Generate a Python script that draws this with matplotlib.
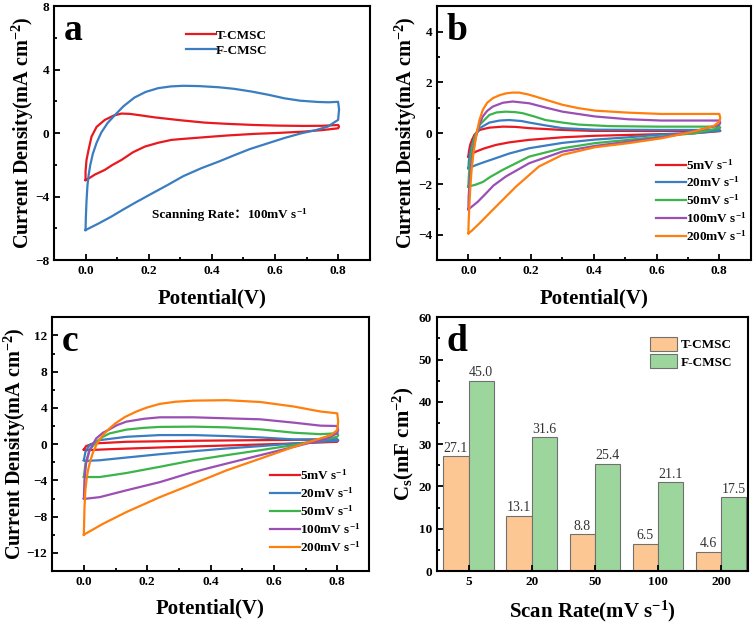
import numpy as np
import matplotlib
matplotlib.use("Agg")
import matplotlib.pyplot as plt
from matplotlib.ticker import MultipleLocator, AutoMinorLocator

plt.rcParams['font.family'] = ['Liberation Serif', 'Noto Sans CJK SC', 'DejaVu Sans']
plt.rcParams['font.weight'] = 'bold'
plt.rcParams['mathtext.default'] = 'regular'

# ---- panel a : 100 mV/s, T-CMSC vs F-CMSC (loop: forward 0->0.8 then back)
a_t_v = [0.0, 0.0, 0.003, 0.01, 0.019, 0.035, 0.061, 0.09, 0.114, 0.14, 0.17, 0.219, 0.30, 0.377, 0.45,
         0.535, 0.61, 0.69, 0.75, 0.8, 0.803, 0.8, 0.75, 0.69, 0.61, 0.535, 0.45, 0.377, 0.30, 0.272,
         0.23, 0.188, 0.15, 0.114, 0.085, 0.061, 0.03, 0.01, 0.0]
a_t_i = [-2.95, -2.4, -1.69, -1.0, -0.21, 0.4, 0.84, 1.12, 1.24, 1.22, 1.14, 1.0, 0.82, 0.67, 0.59,
         0.52, 0.48, 0.46, 0.47, 0.52, 0.42, 0.31, 0.2, 0.1, 0.02, -0.04, -0.14, -0.25, -0.37, -0.42,
         -0.6, -0.84, -1.2, -1.68, -2.0, -2.31, -2.6, -2.85, -2.95]
a_f_v = [0.0, 0.001, 0.003, 0.006, 0.01, 0.015, 0.023, 0.035, 0.05, 0.07, 0.092, 0.12, 0.155, 0.19,
         0.23, 0.27, 0.31, 0.36, 0.42, 0.47, 0.525, 0.58, 0.63, 0.68, 0.737, 0.77, 0.8, 0.803, 0.8,
         0.785, 0.768, 0.73, 0.684, 0.63, 0.578, 0.52, 0.473, 0.42, 0.367, 0.31, 0.26, 0.21, 0.155,
         0.12, 0.081, 0.04, 0.0]
a_f_i = [-6.1, -5.3, -4.3, -3.3, -2.6, -2.0, -1.3, -0.6, 0.05, 0.65, 1.12, 1.7, 2.25, 2.6,
         2.84, 2.95, 2.99, 2.97, 2.9, 2.8, 2.63, 2.42, 2.2, 2.05, 1.97, 1.95, 1.98, 1.5, 0.84,
         0.65, 0.42, 0.2, 0.0, -0.3, -0.63, -1.0, -1.37, -1.8, -2.2, -2.7, -3.26, -3.8, -4.4,
         -4.8, -5.26, -5.7, -6.1]

# ---- panel b : T-CMSC at different scan rates
b_5_v = [0.0, 0.002, 0.006, 0.012, 0.02, 0.036, 0.067, 0.11, 0.15, 0.194, 0.3, 0.404, 0.6, 0.8, 0.803,
         0.8, 0.72, 0.6, 0.404, 0.3, 0.194, 0.13, 0.088, 0.05, 0.025, 0.01, 0.0]
b_5_i = [-0.92, -0.7, -0.45, -0.25, -0.05, 0.13, 0.22, 0.26, 0.25, 0.2, 0.13, 0.09, 0.09, 0.1, 0.09,
         0.08, 0.0, -0.04, -0.1, -0.16, -0.26, -0.36, -0.46, -0.6, -0.72, -0.82, -0.92]
b_20_v = [0.0, 0.002, 0.006, 0.012, 0.02, 0.036, 0.067, 0.1, 0.13, 0.17, 0.194, 0.25, 0.3, 0.404, 0.6,
          0.8, 0.803, 0.8, 0.72, 0.615, 0.51, 0.404, 0.3, 0.194, 0.13, 0.088, 0.05, 0.025, 0.008,
          0.0]
b_20_i = [-1.38, -1.05, -0.75, -0.45, -0.15, 0.2, 0.42, 0.5, 0.52, 0.48, 0.42, 0.3, 0.2, 0.14, 0.13,
          0.13, 0.11, 0.1, 0.0, -0.05, -0.16, -0.25, -0.38, -0.59, -0.8, -0.98, -1.14, -1.25,
          -1.34, -1.38]
b_50_v = [0.0, 0.002, 0.006, 0.012, 0.02, 0.036, 0.067, 0.09, 0.12, 0.15, 0.173, 0.21, 0.246, 0.3,
          0.352, 0.45, 0.6, 0.8, 0.803, 0.8, 0.72, 0.615, 0.51, 0.404, 0.3, 0.194, 0.11, 0.07, 0.046,
          0.02, 0.005, 0.0]
b_50_i = [-2.1, -1.6, -1.1, -0.6, -0.15, 0.33, 0.72, 0.82, 0.85, 0.83, 0.79, 0.66, 0.52, 0.42,
          0.34, 0.28, 0.26, 0.26, 0.22, 0.2, 0.0, -0.13, -0.26, -0.39, -0.59, -0.92, -1.44, -1.72,
          -1.92, -2.04, -2.08, -2.1]
b_100_v = [0.0, 0.001, 0.004, 0.008, 0.014, 0.022, 0.032, 0.046, 0.06, 0.078, 0.11, 0.141, 0.194,
           0.25, 0.3, 0.404, 0.51, 0.615, 0.8, 0.803, 0.8, 0.72, 0.615, 0.51, 0.404, 0.3, 0.194,
           0.12, 0.08, 0.057, 0.03, 0.01, 0.0]
b_100_i = [-3.0, -2.5, -1.9, -1.35, -0.8, -0.25, 0.25, 0.66, 0.88, 1.05, 1.2, 1.25, 1.18, 1.0,
           0.85, 0.66, 0.55, 0.5, 0.5, 0.42, 0.33, 0.07, -0.16, -0.33, -0.5, -0.72, -1.18, -1.7,
           -2.06, -2.36, -2.7, -2.9, -3.0]
b_200_v = [0.0, 0.001, 0.003, 0.006, 0.01, 0.016, 0.025, 0.035, 0.046, 0.06, 0.078, 0.1, 0.12, 0.14,
           0.162, 0.19, 0.215, 0.26, 0.3, 0.35, 0.404, 0.51, 0.615, 0.8, 0.803, 0.8, 0.783, 0.72,
           0.615, 0.51, 0.404, 0.3, 0.225, 0.152, 0.088, 0.036, 0.01, 0.0]
b_200_i = [-3.94, -3.5, -2.9, -2.2, -1.5, -0.8, -0.1, 0.5, 0.92, 1.2, 1.38, 1.5, 1.57, 1.6,
           1.6, 1.53, 1.44, 1.27, 1.12, 0.99, 0.89, 0.81, 0.76, 0.76, 0.6, 0.46, 0.29, 0.07,
           -0.2, -0.39, -0.55, -0.85, -1.31, -2.1, -2.89, -3.54, -3.85, -3.94]

# ---- panel c : F-CMSC at different scan rates
c_5_v = [0.0, 0.007, 0.029, 0.135, 0.346, 0.557, 0.8, 0.803, 0.8, 0.663, 0.45, 0.24, 0.08, 0.007, 0.0]
c_5_i = [-0.6, -0.22, 0.07, 0.26, 0.37, 0.44, 0.52, 0.4, 0.26, 0.07, -0.15, -0.37, -0.56, -0.67, -0.6]
c_20_v = [0.0, 0.005, 0.018, 0.05, 0.135, 0.24, 0.346, 0.45, 0.557, 0.663, 0.8, 0.803, 0.8, 0.663,
          0.557, 0.45, 0.346, 0.24, 0.134, 0.05, 0.007, 0.0]
c_20_i = [-1.78, -0.85, -0.1, 0.44, 0.81, 1.0, 1.0, 0.89, 0.74, 0.52, 0.52, 0.45, 0.37, 0.07,
          -0.22, -0.48, -0.78, -1.11, -1.48, -1.78, -1.85, -1.78]
c_50_v = [0.0, 0.005, 0.018, 0.039, 0.06, 0.081, 0.134, 0.19, 0.24, 0.346, 0.45, 0.557, 0.663, 0.747,
          0.8, 0.803, 0.8, 0.747, 0.663, 0.557, 0.45, 0.346, 0.24, 0.134, 0.05, 0.0]
c_50_i = [-3.63, -2.15, -0.67, 0.26, 0.8, 1.18, 1.6, 1.8, 1.9, 1.93, 1.85, 1.63, 1.26, 1.1,
          1.2, 1.0, 0.81, 0.44, -0.1, -0.67, -1.22, -1.78, -2.5, -3.19, -3.63, -3.63]
c_100_v = [0.0, 0.002, 0.007, 0.018, 0.039, 0.06, 0.081, 0.105, 0.134, 0.19, 0.24, 0.346, 0.45,
           0.557, 0.663, 0.747, 0.8, 0.803, 0.8, 0.768, 0.663, 0.557, 0.45, 0.346, 0.24, 0.134,
           0.05, 0.002, 0.0]
c_100_i = [-6.0, -4.0, -2.15, -0.67, 0.63, 1.25, 1.63, 2.1, 2.48, 2.8, 2.96, 2.96, 2.85,
           2.74, 2.37, 2.04, 2.0, 1.6, 1.2, 0.63, -0.3, -1.22, -2.15, -3.07, -4.19, -5.1,
           -5.85, -6.04, -6.0]
c_200_v = [0.0, 0.002, 0.005, 0.009, 0.013, 0.02, 0.029, 0.042, 0.06, 0.08, 0.1, 0.13, 0.166, 0.2,
           0.24, 0.29, 0.346, 0.45, 0.557, 0.663, 0.747, 0.8, 0.803, 0.8, 0.78, 0.747, 0.663, 0.557,
           0.45, 0.346, 0.24, 0.134, 0.06, 0.002, 0.0]
c_200_i = [-10.0, -7.0, -5.0, -3.8, -2.9, -1.9, -0.9, 0.1, 1.0, 1.7, 2.3, 3.0, 3.6, 4.05,
           4.44, 4.68, 4.8, 4.85, 4.65, 4.15, 3.6, 3.4, 2.5, 1.55, 1.0, 0.63, -0.3, -1.6,
           -2.9, -4.37, -5.85, -7.5, -8.8, -9.95, -10.0]

# ---- panel d : areal capacitance
scan_rates = ['5', '20', '50', '100', '200']
cs_t = [27.1, 13.1, 8.8, 6.5, 4.6]
cs_f = [45.0, 31.6, 25.4, 21.1, 17.5]

rate_labels = ['5mV s$^{-1}$', '20mV s$^{-1}$', '50mV s$^{-1}$', '100mV s$^{-1}$', '200mV s$^{-1}$']
rate_colors = ['#e8191f', '#3a7dc1', '#3cb44b', '#9b4fb4', '#ff7f0e']

fig = plt.figure(figsize=(7.56, 6.27), dpi=100)
ax_a = fig.add_axes([0.0714, 0.585, 0.4176, 0.405])
ax_b = fig.add_axes([0.578, 0.585, 0.415, 0.405])
ax_c = fig.add_axes([0.069, 0.0893, 0.419, 0.4047])
ax_d = fig.add_axes([0.578, 0.0893, 0.411, 0.4047])


def style(ax):
    for s in ax.spines.values():
        s.set_linewidth(1.5)
    ax.tick_params(which='both', direction='in', width=1.3, labelsize=9.5)
    ax.tick_params(which='major', length=4)
    ax.tick_params(which='minor', length=2.5)
    for t in ax.get_xticklabels() + ax.get_yticklabels():
        t.set_fontweight('bold')


def cv_axes(ax, ylim, ystep, letter):
    ax.set_xlim(-0.1, 0.9)
    ax.set_ylim(*ylim)
    ax.xaxis.set_minor_locator(MultipleLocator(0.1))
    ax.yaxis.set_major_locator(MultipleLocator(ystep))
    ax.yaxis.set_minor_locator(AutoMinorLocator(2))
    ax.set_xticks([0.0, 0.2, 0.4, 0.6, 0.8])
    ax.set_xticklabels(['0.0', '0.2', '0.4', '0.6', '0.8'])
    ax.set_xlabel('Potential(V)', fontsize=15, fontweight='bold', labelpad=8)
    ax.set_ylabel('Current Density(mA cm$^{-2}$)', fontsize=14.5, fontweight='bold', labelpad=-1)
    ax.text(0.03, 0.975, letter, transform=ax.transAxes, fontsize=27, fontweight='bold',
            va='top', ha='left')
    style(ax)


leg_kw = dict(frameon=False, fontsize=9.5, handlelength=2.3, handletextpad=0.0,
              labelspacing=0.25, borderaxespad=0.0, loc='upper left')

# a
ax_a.plot(a_t_v, a_t_i, color=rate_colors[0], lw=1.6, label='T-CMSC')
ax_a.plot(a_f_v, a_f_i, color=rate_colors[1], lw=1.6, label='F-CMSC')
cv_axes(ax_a, (-8, 8), 4, 'a')
ax_a.legend(bbox_to_anchor=(0.40, 0.93), **leg_kw)
t1 = ax_a.text(0.21, -5.35, 'Scanning Rate：', fontsize=9.5, fontweight='bold', ha='left')
ax_a.annotate('100mV s$^{-1}$', xy=(1, 0), xycoords=t1, va='bottom', ha='left',
              fontsize=9.5, fontweight='bold')

# b
b_curves = [(b_5_v, b_5_i), (b_20_v, b_20_i), (b_50_v, b_50_i), (b_100_v, b_100_i), (b_200_v, b_200_i)]
for (v, i), lab, col in zip(b_curves, rate_labels, rate_colors):
    ax_b.plot(v, i, color=col, lw=1.6, label=lab)
cv_axes(ax_b, (-5, 5), 2, 'b')
ax_b.legend(bbox_to_anchor=(0.68, 0.425), **leg_kw)

# c
c_curves = [(c_5_v, c_5_i), (c_20_v, c_20_i), (c_50_v, c_50_i), (c_100_v, c_100_i), (c_200_v, c_200_i)]
for (v, i), lab, col in zip(c_curves, rate_labels, rate_colors):
    ax_c.plot(v, i, color=col, lw=1.6, label=lab)
cv_axes(ax_c, (-14, 14), 4, 'c')
ax_c.legend(bbox_to_anchor=(0.67, 0.425), **leg_kw)

# d
x = np.arange(len(scan_rates))
w = 0.4
ax_d.bar(x - w / 2, cs_t, w, color='#fdc793', edgecolor='#707070', lw=0.8, label='T-CMSC')
ax_d.bar(x + w / 2, cs_f, w, color='#9dd69d', edgecolor='#707070', lw=0.8, label='F-CMSC')
for xi, val in zip(x - w / 2, cs_t):
    ax_d.text(xi, val + 0.3, '%.1f' % val, ha='center', va='bottom', fontsize=10,
              fontweight='normal', color='#333333')
for xi, val in zip(x + w / 2, cs_f):
    ax_d.text(xi, val + 0.3, '%.1f' % val, ha='center', va='bottom', fontsize=10,
              fontweight='normal', color='#333333')
ax_d.set_xlim(-0.5, 4.42)
ax_d.set_ylim(0, 60)
ax_d.set_xticks(x)
ax_d.set_xticklabels(scan_rates)
ax_d.yaxis.set_major_locator(MultipleLocator(10))
ax_d.yaxis.set_minor_locator(AutoMinorLocator(2))
ax_d.set_xlabel('Scan Rate(mV s$^{-1}$)', fontsize=15, fontweight='bold', labelpad=8)
ax_d.set_ylabel('C$_s$(mF cm$^{-2}$)', fontsize=15, fontweight='bold', labelpad=2)
ax_d.text(0.03, 0.975, 'd', transform=ax_d.transAxes, fontsize=27, fontweight='bold',
          va='top', ha='left')
ax_d.legend(loc='upper right', bbox_to_anchor=(0.99, 0.97), frameon=False, fontsize=9.5,
            handlelength=2.1, handleheight=1.3, handletextpad=0.3, labelspacing=0.2)
style(ax_d)
ax_d.tick_params(axis='x', which='minor', bottom=False)

fig.savefig('out.png', dpi=100)
